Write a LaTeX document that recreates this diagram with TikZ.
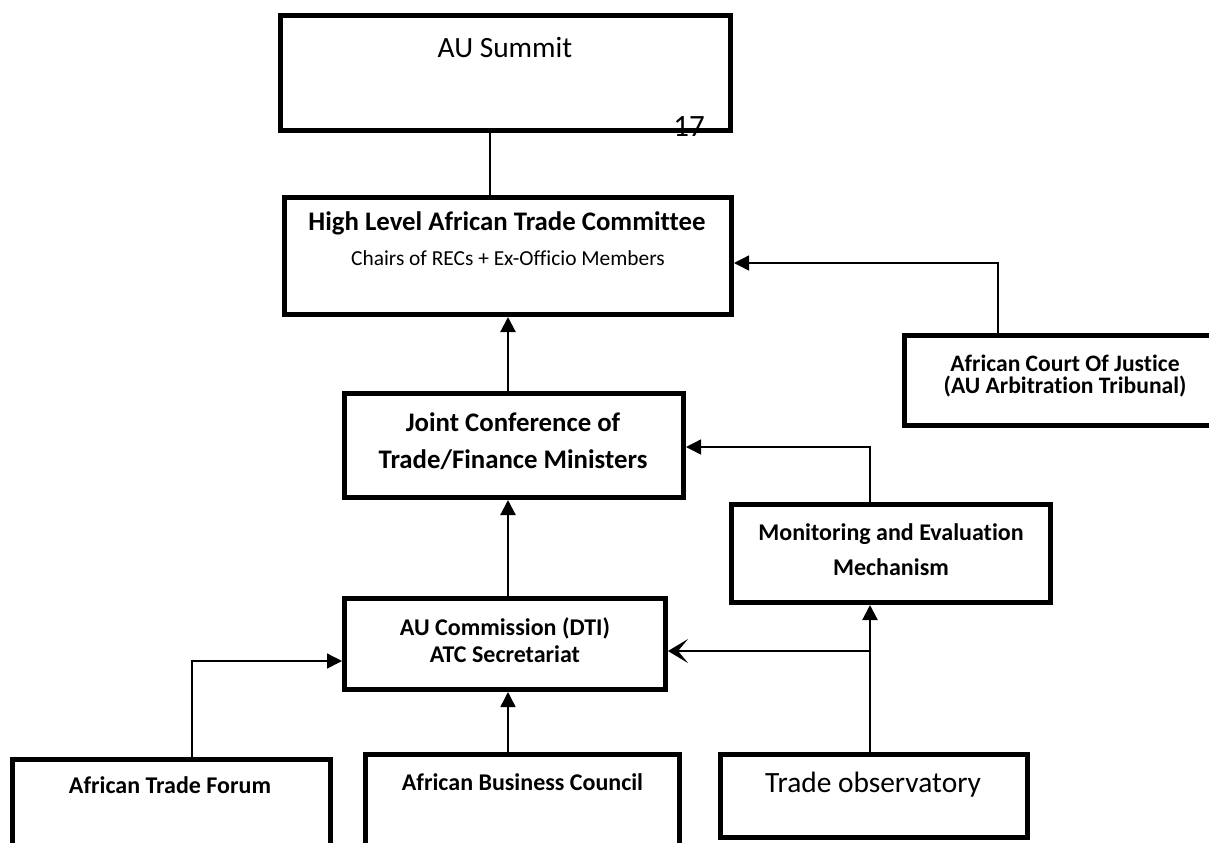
\documentclass[tikz,border=0pt]{standalone}
\usepackage{fontspec}
\setmainfont{Carlito}[Ligatures=NoCommon]
\usetikzlibrary{arrows.meta}

\begin{document}
\begin{tikzpicture}[x=0.5pt,y=-0.5pt,
  box/.style={draw,line width=2.5pt,inner sep=0pt},
  plain/.style={font=\fontsize{14.7}{17}\selectfont},
  heading/.style={font=\bfseries\fontsize{12}{#1}\selectfont,align=center},
  heading/.default=14,
  link/.style={line width=0.7pt},
  feed/.style={line width=1.1pt,-{Triangle[length=7.5pt,width=7.5pt]}}]
  \fill[white] (0,0) rectangle (1209,842);
  \clip (0,0) rectangle (1209,842);
  % page number sits under the summit border
  \node[plain,font=\fontsize{15.5}{17}\selectfont] (pageno) at (689,127) {17};
  % boxes
  \node[box,minimum width=225pt,minimum height=57.5pt] (summit) at (505.5,73) {};
  \node[box,minimum width=223.5pt,minimum height=58.5pt] (hlatc) at (508,256) {};
  \node[box,minimum width=160.25pt,minimum height=45pt] (court) at (1064.75,380.5) {};
  \node[box,minimum width=169.5pt,minimum height=52pt] (joint) at (514,445.5) {};
  \node[box,minimum width=159.5pt,minimum height=49pt] (me) at (891,553.5) {};
  \node[box,minimum width=160.5pt,minimum height=45.5pt] (comm) at (505,644) {};
  \node[box,minimum width=159pt,minimum height=70.25pt] (atf) at (171.5,829.75) {};
  \node[box,minimum width=157pt,minimum height=72.75pt] (abc) at (522.5,827.25) {};
  \node[box,minimum width=153.5pt,minimum height=41.5pt] (obs) at (874,796) {};
  % texts
  \node[plain] (summit-t) at (505,47) {AU Summit};
  \node[heading,font=\bfseries\fontsize{13.4}{16}\selectfont] (hlatc-t) at (507,223) {High Level African Trade Committee};
  \node[font=\fontsize{10.7}{13}\selectfont] (hlatc-sub) at (508,258) {Chairs of RECs + Ex-Officio Members};
  \node[heading=11.2,font=\bfseries\fontsize{11.8}{11.2}\selectfont] (court-t) at (1065,376) {African Court Of Justice\\(AU Arbitration Tribunal)};
  \node[heading=18.5,font=\bfseries\fontsize{13.4}{18.5}\selectfont] (joint-t) at (513,441.5) {Joint Conference of\\Trade/Finance Ministers};
  \node[heading=17.5] (me-t) at (891,549.5) {Monitoring and Evaluation\\Mechanism};
  \node[heading=13.5] (comm-t) at (505,640.5) {AU Commission (DTI)\\ATC Secretariat};
  \node[heading] (atf-t) at (170,785) {African Trade Forum};
  \node[heading] (abc-t) at (522.5,782) {African Business Council};
  \node[plain] (obs-t) at (873,785) {Trade observatory};
  % connectors
  \draw[link] (summit.south -| 490,0) -- (hlatc.north -| 490,0);
  \draw[feed] (joint.north -| 508,0) -- (hlatc.south -| 508,0);
  \draw[feed,line width=0.7pt] (court.north -| 998,0) |- (hlatc.east |- 0,263);
  \draw[feed,line width=0.7pt] (me.north -| 870,0) |- (joint.east |- 0,447);
  \draw[feed] (comm.north -| 508,0) -- (joint.south -| 508,0);
  \draw[feed,line width=0.7pt] (atf.north -| 192,0) |- (comm.west |- 0,661);
  \draw[feed,line width=0.8pt] (abc.north -| 508,0) -- (comm.south -| 508,0);
  \draw[feed] (obs.north -| 870,0) -- (me.south -| 870,0);
  \coordinate (split) at (870,651);
  \draw[line width=1pt,-{Stealth[length=10pt,width=12pt,inset=5pt]}] (split) -- (comm.east |- split);
\end{tikzpicture}
\end{document}
